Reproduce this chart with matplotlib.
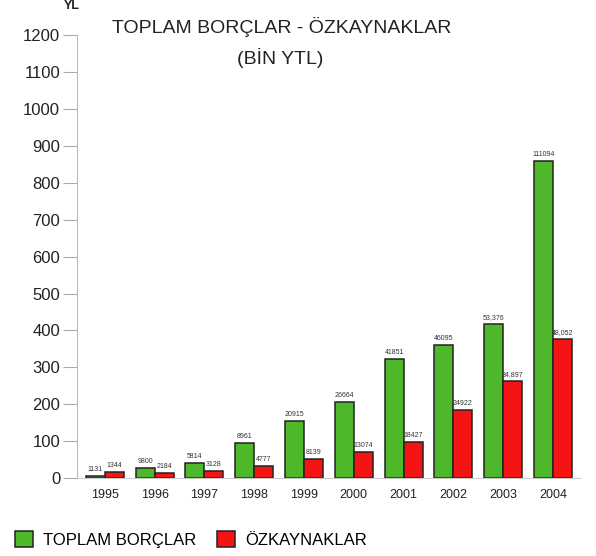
import matplotlib
matplotlib.use("Agg")
import matplotlib.pyplot as plt
import numpy as np

years = [1995, 1996, 1997, 1998, 1999, 2000, 2001, 2002, 2003, 2004]
borclar = [5, 27, 40, 95, 155, 207, 322, 360, 417, 858]
ozkaynak = [16, 14, 19, 33, 52, 71, 98, 185, 262, 376]
borclar_lbl = ["1131", "9800", "5814", "8961", "20915", "26664", "41851", "46095", "53,376", "111094"]
ozkaynak_lbl = ["1344", "2184", "3128", "4777", "8139", "13074", "18427", "24922", "34,897", "48,052"]

plt.rcParams['font.family'] = ['Liberation Sans', 'DejaVu Sans']

fig = plt.figure(figsize=(5.96, 5.56), dpi=100)
ax = fig.add_axes([0.129, 0.140, 0.844, 0.797])

x = np.array(years)
w = 0.38
b1 = ax.bar(x - w / 2, borclar, w, color='#4cb82a', edgecolor='#222222', linewidth=1.1,
            label='TOPLAM BORÇLAR')
b2 = ax.bar(x + w / 2, ozkaynak, w, color='#f51414', edgecolor='#222222', linewidth=1.1,
            label='ÖZKAYNAKLAR')

for xi, v, t in zip(x - w / 2, borclar, borclar_lbl):
    ax.text(xi, v + 8, t, ha='center', va='bottom', fontsize=5, color='#333333')
for xi, v, t in zip(x + w / 2, ozkaynak, ozkaynak_lbl):
    ax.text(xi, v + 8, t, ha='center', va='bottom', fontsize=5, color='#333333')

ax.set_xlim(1994.44, 2004.54)
ax.set_ylim(0, 1200)
ax.set_yticks(range(0, 1201, 100))
ax.set_xticks(years)
ax.tick_params(axis='y', direction='out', length=10, color='#aaaaaa', labelsize=12,
               labelcolor='#222222', pad=2)
ax.tick_params(axis='x', length=0, labelsize=9, labelcolor='#222222', pad=8)
for s in ['top', 'right']:
    ax.spines[s].set_visible(False)
ax.spines['left'].set_color('#bbbbbb')
ax.spines['bottom'].set_color('#cccccc')

fig.text(0.473, 0.951, 'TOPLAM BORÇLAR - ÖZKAYNAKLAR', ha='center', va='center',
         fontsize=14, color='#222222')
fig.text(0.47, 0.896, '(BİN YTL)', ha='center', va='center', fontsize=14, color='#222222')
fig.text(0.121, 1.0, 'YL', ha='center', va='top', fontsize=9, fontweight='bold',
         color='#222222')

fig.legend(handles=[b1, b2], loc='lower left', bbox_to_anchor=(0.0, -0.012), ncol=2,
           frameon=False, fontsize=12, handlelength=1.1, handleheight=1.1,
           handletextpad=0.6, columnspacing=1.2)

fig.savefig('out.png', dpi=100, facecolor='white')
